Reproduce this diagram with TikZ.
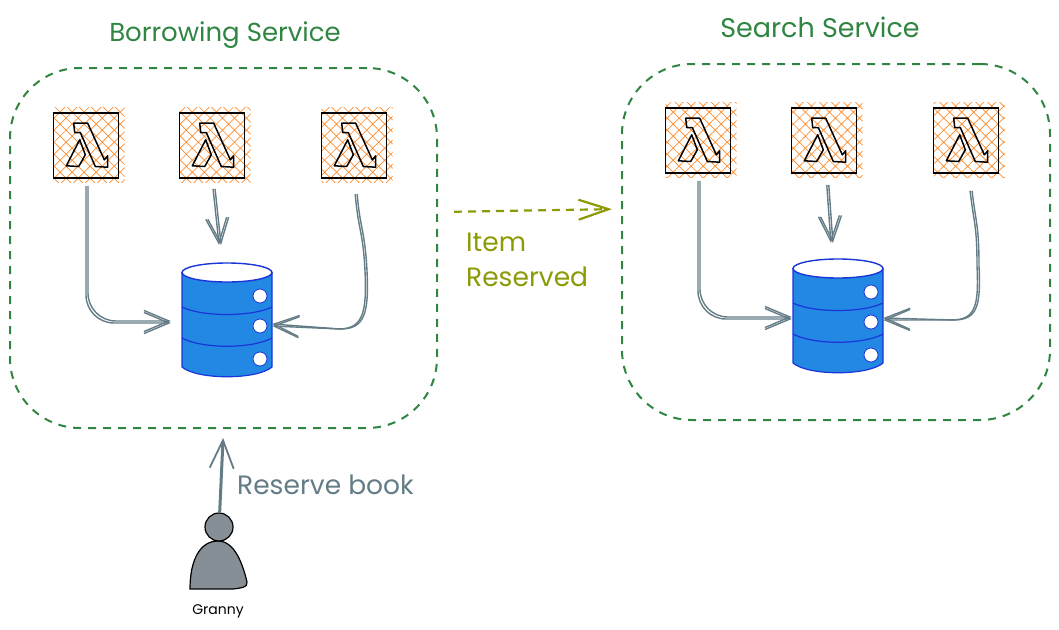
\documentclass[tikz,border=0pt]{standalone}
\usepackage{fontspec}
\setmainfont{Poppins}
\usetikzlibrary{positioning}
\usetikzlibrary{calc}
\usetikzlibrary{arrows.meta}
\usetikzlibrary{patterns.meta}

\definecolor{svcgreen}{HTML}{2F8541}
\definecolor{linkgrey}{HTML}{637C85}
\definecolor{eventolive}{HTML}{8C9A05}
\definecolor{hatchorange}{HTML}{FD8A2A}
\definecolor{dbblue}{HTML}{2288E4}
\definecolor{dbline}{HTML}{1A35D8}
\definecolor{usergrey}{HTML}{868E96}

\tikzset{
	lambdaglyph/.pic={
		\draw[black,line width=1.5pt,line join=round] (-12.3,-22.3) -- (1.7,-22.3) -- (18.3,14.3) -- (21.7,10.3) -- (21.7,21.7) -- (9.3,21) -- (-5.7,-13) -- (-11.3,-13) -- cycle;
		\draw[black,line width=1.5pt,line join=round] (-6.3,-5.7) -- (-0.7,9.3) -- (-7.3,21) -- (-19.7,20.3) -- cycle;
	},
	dbstack/.pic={
		\draw[dbline,fill=dbblue,line width=1.2pt] (-45,-47) -- (-45,47) .. controls (-30,60) and (30,60) .. (45,47) -- (45,-47) -- cycle;
		\draw[dbline,fill=white,line width=1.4pt] (0,-47.5) ellipse (45 and 9.5);
		\draw[dbline,line width=1.2pt] (-45,-13) .. controls (-25,-3) and (25,-3) .. (45,-13);
		\draw[dbline,line width=1.2pt] (-45,18) .. controls (-25,29) and (25,29) .. (45,18);
		\foreach \holey in {-24,6,39}
			\draw[dbline,fill=white,line width=.8pt] (33,\holey) circle (7);
	}
}

\begin{document}
\begin{tikzpicture}[x=1pt,y=-1pt]
	\tikzstyle{service} = [draw=svcgreen,line width=2pt,dash pattern=on 8pt off 7pt,rounded corners=70pt,inner sep=0pt]
	\tikzstyle{hatch} = [minimum width=71pt,minimum height=75pt,inner sep=0pt,pattern={Hatch[angle=45,distance=8.5pt,line width=.7pt]},pattern color=hatchorange]
	\tikzstyle{fnbox} = [draw=black,line width=1.8pt,minimum size=65pt,inner sep=0pt]
	\tikzstyle{dbspot} = [minimum width=90pt,minimum height=114pt,inner sep=0pt]
	\tikzstyle{link} = [linkgrey,line width=1.4pt,-{Straight Barb[length=25pt,width=21pt,line width=1.4pt]}]
	\tikzstyle{event} = [eventolive,line width=2.2pt,dash pattern=on 8pt off 6pt,-{Straight Barb[length=30pt,width=20pt,line width=2.2pt]}]

	\useasboundingbox (0,0) rectangle (1059,629);

	% service borders
	\node[service,minimum width=427pt,minimum height=360pt] at (223.5,248) (borrow) {};
	\node[service,minimum width=428pt,minimum height=356pt] at (836,242) (search) {};
	\node[text=svcgreen,font=\fontsize{26}{30}\selectfont] at (225,35) (borrowtitle) {Borrowing Service};
	\node[text=svcgreen,font=\fontsize{27}{30}\selectfont] at (820,27) (searchtitle) {Search Service};

	% lambdas
	\foreach \fn/\x/\y in {a1/86/145.5,a2/212/145.5,a3/354/145.5,c1/698/140.5,c2/824/140.5,c3/966/140.5} {
		\node[hatch] at (\x+3,\y-1) (hatch\fn) {};
		\node[fnbox] at (\x,\y) (\fn) {};
		\pic at (\fn) {lambdaglyph};
	}

	% tables
	\node[dbspot] at (227,320) (db1) {};
	\node[dbspot] at (838,316) (db2) {};
	\pic at (db1) {dbstack};
	\pic at (db2) {dbstack};

	% reads and writes
	\begin{scope}[rounded corners=28pt]
		\foreach \wob in {0,2} {
			\draw[link,shorten <=7pt,shorten >=11pt] ([xshift=\wob pt]a1.south) |- ([yshift=\wob pt-3pt]db1.west);
			\draw[link,shorten <=7pt,shorten >=1pt] ([xshift=\wob pt]c1.south) |- ([yshift=\wob pt-3pt]db2.west);
		}
	\end{scope}
	\foreach \wob in {0,2} {
		\draw[link,shorten <=10pt,shorten >=18pt] ([xshift=\wob pt]a2.south) -- ([xshift=\wob pt-6pt]db1.north);
		\draw[link,shorten <=11pt,shorten >=16pt] ([xshift=\wob pt+2pt]c2.south) -- ([xshift=\wob pt-6pt]db2.north);
		\draw[link,shorten <=15pt] ([xshift=\wob pt]a3.south) .. controls +(4,50) and +(-2,-40) .. ++(11,92) .. controls +(2,42) and +(26,1) .. ++(-28,58) -- ([yshift=\wob pt-6pt]db1.east);
		\draw[link,shorten <=17pt] ([xshift=\wob pt+2pt]c3.south) .. controls +(6,50) and +(0,-40) .. ++(9,92) .. controls +(2,42) and +(26,1) .. ++(-28,54) -- ([yshift=\wob pt-4pt]db2.east);
	}

	% event
	\draw[event,shorten <=16pt,shorten >=9pt] ([yshift=36pt]borrow.east) -- ([yshift=33pt]search.west);
	\node[text=eventolive,font=\fontsize{26.5}{35}\selectfont,align=left,anchor=north west,inner sep=0pt] at (466,233) (eventlabel) {Item\\Reserved};

	% granny
	\draw[black,fill=usergrey,line width=1.2pt] (190,589) .. controls (190,560) and (200,541) .. (218,541) .. controls (235,541) and (243,565) .. (247,582) .. controls (248,588) and (240,588) .. (233,589) -- cycle;
	\node[draw=black,fill=usergrey,circle,line width=1.2pt,minimum size=28pt,inner sep=0pt] at (219,527) (granny) {};
	\node[font=\fontsize{14}{16}\selectfont] at (218,611) (grannylabel) {Granny};
	\draw[linkgrey,line width=3pt,-{Straight Barb[length=28pt,width=24pt,line width=1.8pt]},shorten >=9pt] (granny) -- (borrow.south);
	\node[text=linkgrey,font=\fontsize{26.5}{30}\selectfont,anchor=west,inner sep=0pt] at (237,485) (reservelabel) {Reserve book};
\end{tikzpicture}
\end{document}
